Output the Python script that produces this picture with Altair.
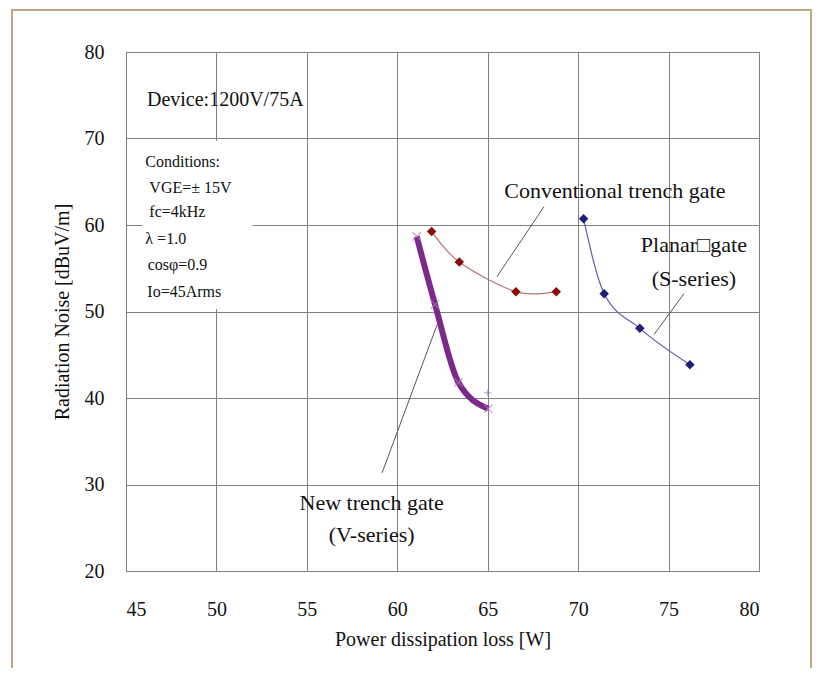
import altair as alt
import pandas as pd

FONT = "Liberation Serif"

# ---- data ----
new_x = [61.07, 62.09, 63.38, 65.03]
new_y = [58.68, 50.8, 41.8, 38.76]
conv_x = [61.9, 63.43, 66.56, 68.79]
conv_y = [59.26, 55.72, 52.29, 52.29]
planar_x = [70.3, 71.44, 73.41, 76.18]
planar_y = [60.73, 52.06, 48.05, 43.85]
stray_x = [65.0]
stray_y = [40.6]

x_ticks = [45, 50, 55, 60, 65, 70, 75, 80]
y_ticks = [20, 30, 40, 50, 60, 70, 80]

cond_lines = ["Conditions:", "VGE=\u00b1 15V", "fc=4kHz", "\u03bb =1.0", "cos\u03c6=0.9", "Io=45Arms"]
cond_x = [46.07, 46.29, 46.29, 46.07, 46.2, 46.18]
cond_y = [66.74, 63.73, 60.96, 57.84, 54.83, 51.71]

labels = ["Conventional trench gate", "Planar\u25a1gate", "(S-series)", "New trench gate", "(V-series)"]
label_x = [72.03, 76.4, 76.4, 58.58, 58.58]
label_y = [63.16, 56.91, 52.98, 27.0, 23.3]

leader_x = [68.11, 75.85, 62.2]
leader_y = [62.12, 52.06, 48.46]
leader_x2 = [65.51, 74.19, 59.16]
leader_y2 = [54.02, 47.32, 31.35]

box = dict(x=45.9, x2=52.0, y=69.75, y2=50.3)

xs = alt.Scale(domain=[45, 80], nice=False, zero=False)
ys = alt.Scale(domain=[20, 80], nice=False, zero=False)

X = lambda f="x": alt.X(f"{f}:Q", scale=xs,
                        axis=alt.Axis(values=x_ticks, title="Power dissipation loss [W]",
                                      grid=True, ticks=False, domain=False,
                                      labelPadding=28, titlePadding=10))
Y = lambda f="y": alt.Y(f"{f}:Q", scale=ys,
                        axis=alt.Axis(values=y_ticks, title="Radiation Noise [dBuV/m]",
                                      grid=True, ticks=False, domain=False,
                                      labelPadding=22, titlePadding=12))

df_new = pd.DataFrame({"x": new_x, "y": new_y})
df_conv = pd.DataFrame({"x": conv_x, "y": conv_y})
df_pl = pd.DataFrame({"x": planar_x, "y": planar_y})
df_stray = pd.DataFrame({"x": stray_x, "y": stray_y})
df_cond = pd.DataFrame({"x": cond_x, "y": cond_y, "t": cond_lines})
df_lab = pd.DataFrame({"x": label_x, "y": label_y, "t": labels})
df_lead = pd.DataFrame({"x": leader_x, "y": leader_y, "x2": leader_x2, "y2": leader_y2})
df_box = pd.DataFrame([box])

frame = alt.Chart(pd.DataFrame({"a": [0]})).mark_rect(
    fill=None, stroke="#BFA77F", strokeWidth=2, clip=False
).encode(x=alt.value(-114), x2=alt.value(685), y=alt.value(-42), y2=alt.value(640))

box_layer = alt.Chart(df_box).mark_rect(fill="white", stroke=None).encode(
    x=X("x"), x2="x2", y=Y("y"), y2="y2")

new_line = alt.Chart(df_new).mark_line(
    color="#7B2A8C", strokeWidth=6, interpolate="monotone").encode(x=X(), y=Y())
new_pts = alt.Chart(df_new).mark_point(
    shape="M-1,-1L1,1M-1,1L1,-1", size=70, filled=False, color="#B07AB8", strokeWidth=1.2
).encode(x=X(), y=Y())

conv_line = alt.Chart(df_conv).mark_line(
    color="#B07878", strokeWidth=1.2, interpolate="cardinal").encode(x=X(), y=Y())
conv_pts = alt.Chart(df_conv).mark_point(
    shape="diamond", size=90, filled=True, color="#8B0A0A", opacity=1).encode(x=X(), y=Y())

pl_line = alt.Chart(df_pl).mark_line(
    color="#5C5CA8", strokeWidth=1.2, interpolate="monotone").encode(x=X(), y=Y())
pl_pts = alt.Chart(df_pl).mark_point(
    shape="diamond", size=90, filled=True, color="#1E1E78", opacity=1).encode(x=X(), y=Y())

stray = alt.Chart(df_stray).mark_point(
    shape="M-1,0L1,0M0,-1L0,1", size=50, filled=False, color="#6A7FD0", strokeWidth=1
).encode(x=X(), y=Y())

leaders = alt.Chart(df_lead).mark_rule(color="#555555", strokeWidth=1).encode(
    x=X(), y=Y(), x2="x2", y2="y2")

device = alt.Chart(pd.DataFrame({"x": [46.16], "y": [73.71], "t": ["Device:1200V/75A"]})).mark_text(
    font=FONT, fontSize=20, align="left", baseline="alphabetic", color="#111111"
).encode(x=X(), y=Y(), text="t:N")

cond = alt.Chart(df_cond).mark_text(
    font=FONT, fontSize=16, align="left", baseline="alphabetic", color="#111111"
).encode(x=X(), y=Y(), text="t:N")

labs = alt.Chart(df_lab).mark_text(
    font=FONT, fontSize=22, align="center", baseline="alphabetic", color="#111111"
).encode(x=X(), y=Y(), text="t:N")

chart = alt.layer(
    frame, box_layer, leaders, conv_line, pl_line, new_line,
    conv_pts, pl_pts, new_pts, stray, device, cond, labs
).properties(
    width=633, height=519,
    autosize=alt.AutoSizeParams(type="none"),
    padding={"left": 118, "top": 44, "right": 54, "bottom": 97},
    background="white",
).configure_view(
    stroke="#808080", strokeWidth=1
).configure_axis(
    gridColor="#808080", gridWidth=1, gridOpacity=1,
    labelFont=FONT, labelFontSize=20, labelColor="#111111",
    titleFont=FONT, titleFontSize=20, titleFontWeight="normal", titleColor="#111111",
)

chart.save("out.html", embed_options={"renderer": "svg", "actions": False})
